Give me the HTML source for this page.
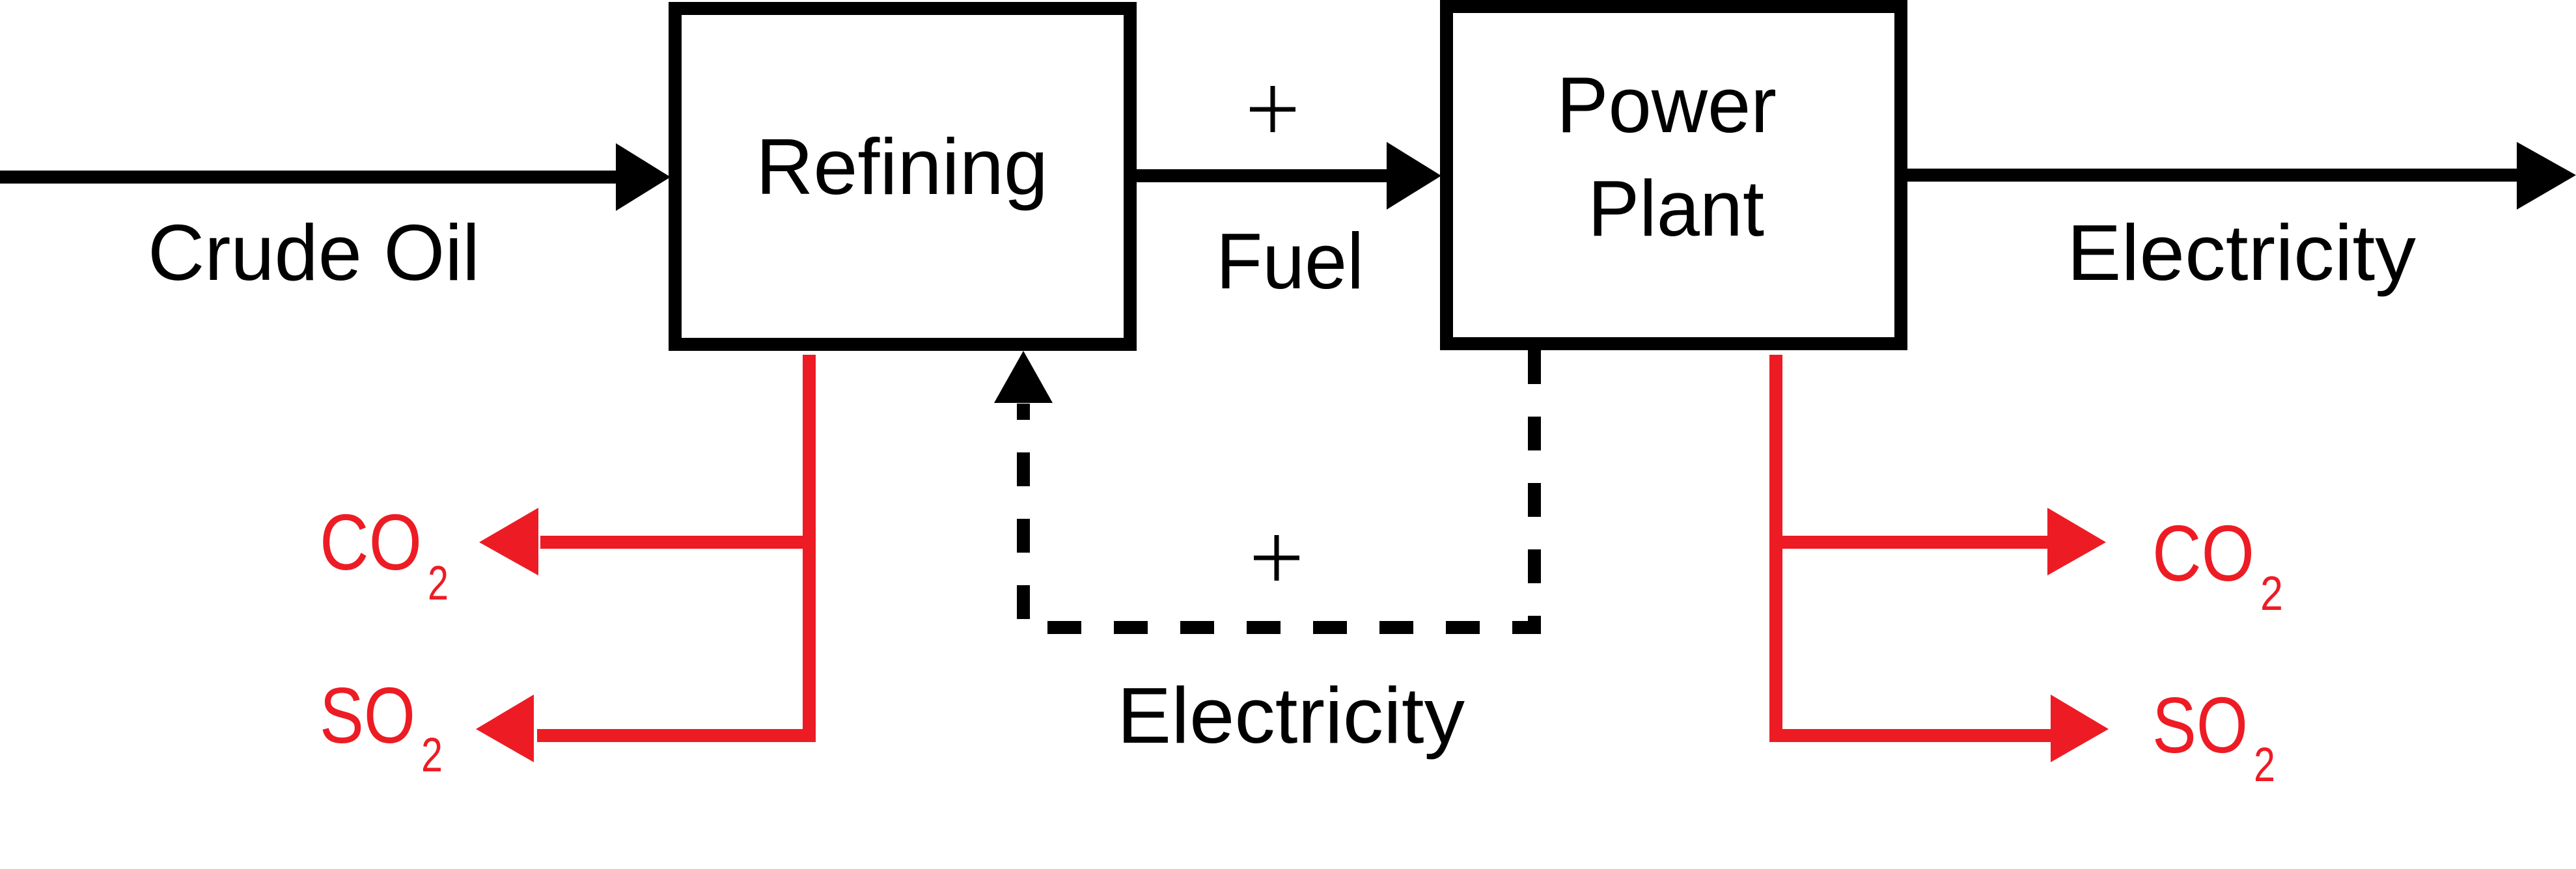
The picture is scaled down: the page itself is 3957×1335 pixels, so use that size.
<!DOCTYPE html>
<html><head><meta charset="utf-8"><style>html,body{margin:0;padding:0;background:#fff}svg{display:block}</style></head>
<body>
<svg width="3957" height="1335" viewBox="0 0 3957 1335" xmlns="http://www.w3.org/2000/svg" font-family="Liberation Sans, sans-serif" font-size="122">
<rect width="3957" height="1335" fill="#fff"/>
<!-- boxes -->
<rect x="1037" y="13" width="699" height="516" fill="none" stroke="#000" stroke-width="20"/>
<rect x="2222" y="10" width="698" height="518" fill="none" stroke="#000" stroke-width="20"/>
<!-- input arrow -->
<line x1="0" y1="272" x2="950" y2="272" stroke="#000" stroke-width="20"/>
<polygon points="946,220 1030,272 946,324" fill="#000"/>
<!-- fuel arrow -->
<line x1="1746" y1="270" x2="2135" y2="270" stroke="#000" stroke-width="20"/>
<polygon points="2130,218 2214,270 2130,322" fill="#000"/>
<!-- output arrow -->
<line x1="2930" y1="269" x2="3870" y2="269" stroke="#000" stroke-width="20"/>
<polygon points="3866,218 3957,269 3866,322" fill="#000"/>
<!-- dashed electricity loop -->
<polyline points="2357,538 2357,964 1572,964 1572,620" fill="none" stroke="#000" stroke-width="20" stroke-dasharray="52 50"/>
<polygon points="1572,539 1617,619 1527,619" fill="#000"/>
<!-- red left -->
<g stroke="#ED1C24" stroke-width="20" fill="none">
<polyline points="1243,545 1243,1130 825,1130"/>
<line x1="1243" y1="833" x2="830" y2="833"/>
<polyline points="2728,545 2728,1130 3155,1130"/>
<line x1="2728" y1="833" x2="3150" y2="833"/>
</g>
<g fill="#ED1C24">
<polygon points="827,780 736,833 827,884"/>
<polygon points="820,1067 731,1120 820,1171"/>
<polygon points="3145,780 3235,833 3145,884"/>
<polygon points="3150,1067 3239,1120 3150,1171"/>
</g>
<!-- text -->
<g fill="#000">
<text x="227" y="430" textLength="510" lengthAdjust="spacingAndGlyphs">Crude Oil</text>
<text x="1161" y="298" textLength="449" lengthAdjust="spacingAndGlyphs">Refining</text>
<text x="1868" y="443" textLength="227" lengthAdjust="spacingAndGlyphs">Fuel</text>
<text x="2391" y="203" textLength="338" lengthAdjust="spacingAndGlyphs">Power</text>
<text x="2439" y="362" textLength="271" lengthAdjust="spacingAndGlyphs">Plant</text>
<text x="3175" y="430" textLength="536" lengthAdjust="spacingAndGlyphs">Electricity</text>
<text x="1716" y="1141" textLength="534" lengthAdjust="spacingAndGlyphs">Electricity</text>
</g>
<g stroke="#000" stroke-width="7">
<line x1="1920" y1="168" x2="1990" y2="168"/><line x1="1955" y1="132" x2="1955" y2="203"/>
<line x1="1926" y1="857" x2="1996" y2="857"/><line x1="1961" y1="822" x2="1961" y2="892"/>
</g>
<g fill="#ED1C24">
<text x="491" y="875" textLength="157" lengthAdjust="spacingAndGlyphs">CO</text>
<text x="657" y="921" font-size="74" textLength="32" lengthAdjust="spacingAndGlyphs">2</text>
<text x="491" y="1141" textLength="147" lengthAdjust="spacingAndGlyphs">SO</text>
<text x="647" y="1185" font-size="74" textLength="33" lengthAdjust="spacingAndGlyphs">2</text>
<text x="3306" y="892" textLength="157" lengthAdjust="spacingAndGlyphs">CO</text>
<text x="3472" y="937" font-size="74" textLength="35" lengthAdjust="spacingAndGlyphs">2</text>
<text x="3306" y="1156" textLength="147" lengthAdjust="spacingAndGlyphs">SO</text>
<text x="3462" y="1200" font-size="74" textLength="33" lengthAdjust="spacingAndGlyphs">2</text>
</g>
</svg>
</body></html>
